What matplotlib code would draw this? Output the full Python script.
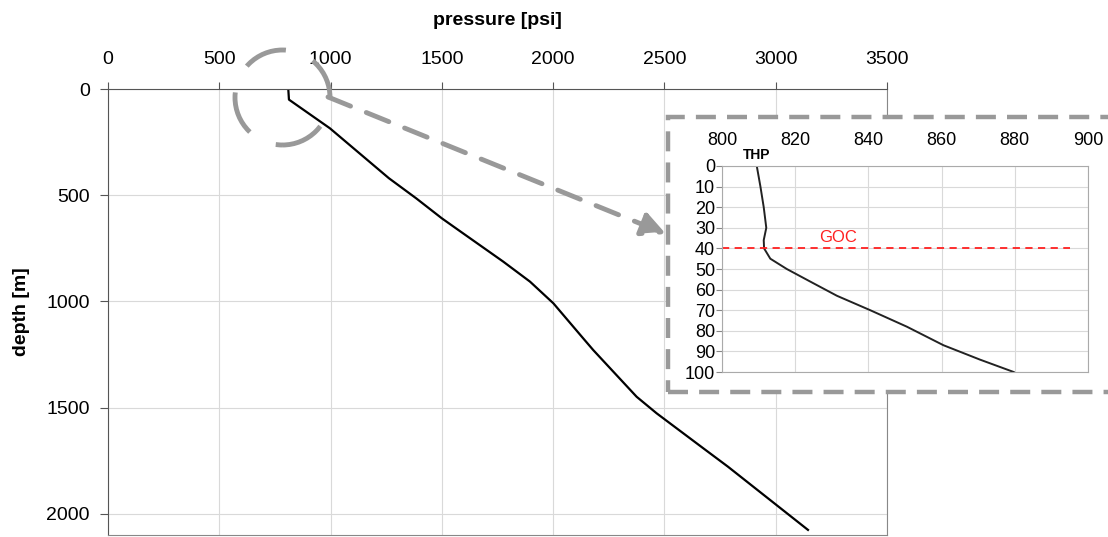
import matplotlib.pyplot as plt
from matplotlib.patches import Rectangle, Ellipse, FancyArrowPatch

plt.rcParams['font.family'] = ['Liberation Sans', 'DejaVu Sans']

# main well profile
depth_main = [0, 50, 185, 420, 515, 609, 672, 813, 907, 1009, 1174, 1229, 1449, 1527,
              1692, 1778, 2076]
p_main = [810, 813, 997, 1262, 1385, 1500, 1585, 1776, 1896, 2001, 2135, 2180, 2375, 2465,
          2675, 2785, 3145]

# zoomed top 100 m
depth_inset = [0, 10, 20, 30, 36, 40, 45, 50, 56, 63, 70, 78, 87, 94, 100]
p_inset = [809.5, 810.5, 811.4, 812.1, 811.4, 811.5, 813.2, 817.7, 824, 831.4,
           840.5, 850.5, 860.5, 870.5, 879.7]
goc_depth = 40

main_xticks = [0, 500, 1000, 1500, 2000, 2500, 3000, 3500]
main_yticks = [0, 500, 1000, 1500, 2000]
inset_xticks = [800, 820, 840, 860, 880, 900]
inset_yticks = list(range(0, 101, 10))

W, H = 1108, 537
fig = plt.figure(figsize=(W / 100, H / 100), dpi=100)

def fx(px):
    return px / W

def fy(py):
    return 1 - py / H

grid_c = '#d9d9d9'
gray = '#999999'

ax = fig.add_axes([fx(108), fy(535), fx(887) - fx(108), fy(89) - fy(535)])
ax.plot(p_main, depth_main, color='black', lw=1.6)
ax.set_xlim(0, 3500)
ax.set_ylim(2100, 0)
ax.set_xticks(main_xticks)
ax.set_yticks(main_yticks)
ax.xaxis.tick_top()
ax.xaxis.set_label_position('top')
ax.tick_params(labelsize=14, length=5, color='#555555')
ax.tick_params(axis='x', pad=10)
ax.tick_params(axis='y', length=6, pad=7)
ax.grid(color=grid_c, lw=0.8)
ax.set_axisbelow(True)
for s in ['top', 'left']:
    ax.spines[s].set_color('#555555')
for s in ['right', 'bottom']:
    ax.spines[s].set_color('#888888')
ax.set_xlabel('pressure [psi]', fontsize=14, fontweight='bold', labelpad=19)
ax.set_ylabel('depth [m]', fontsize=14, fontweight='bold', labelpad=12)

# white box with dashed border behind the inset
box = Rectangle((fx(668), fy(392)), fx(1130) - fx(668), fy(117) - fy(392),
                transform=fig.transFigure, facecolor='white', edgecolor=gray,
                lw=3.2, linestyle=(0, (4.5, 2.5)), zorder=5)
fig.patches.append(box)

# dashed circle on the main chart
circ = Ellipse((fx(282.5), fy(97.5)), fx(95), 95 / H, transform=fig.transFigure,
               fill=False, edgecolor=gray, lw=3.5, linestyle=(0, (9, 6)), zorder=6)
fig.patches.append(circ)

# dashed arrow to the inset
arr = FancyArrowPatch((fx(328), fy(97)), (fx(666), fy(234)), transform=fig.transFigure,
                      arrowstyle='-|>,head_length=1.2,head_width=0.6', mutation_scale=12,
                      shrinkA=0, shrinkB=0,
                      color=gray, lw=3.5, linestyle=(0, (5, 3.5)), zorder=6)
fig.patches.append(arr)

axi = fig.add_axes([fx(722), fy(372), fx(1088) - fx(722), fy(166) - fy(372)], zorder=10)
axi.plot(p_inset, depth_inset, color='#222222', lw=1.4)
axi.plot([800, 895], [goc_depth, goc_depth], color='#ff2020', lw=1.3, linestyle=(0, (4, 3)))
axi.text(831.8, 34.7, 'GOC', color='#ff2020', fontsize=12,
         ha='center', va='center')
axi.text(p_inset[0], -5.3, 'THP', color='black', fontsize=10, fontweight='bold',
         ha='center', va='center')
axi.set_xlim(800, 900)
axi.set_ylim(100, 0)
axi.set_xticks(inset_xticks)
axi.set_yticks(inset_yticks)
axi.xaxis.tick_top()
axi.tick_params(labelsize=13, length=4, color='#888888', pad=1)
axi.tick_params(axis='x', length=0, pad=12)
axi.grid(color=grid_c, lw=0.8)
axi.set_axisbelow(True)
for s in axi.spines.values():
    s.set_color('#aaaaaa')

fig.savefig('out.png', dpi=100)
